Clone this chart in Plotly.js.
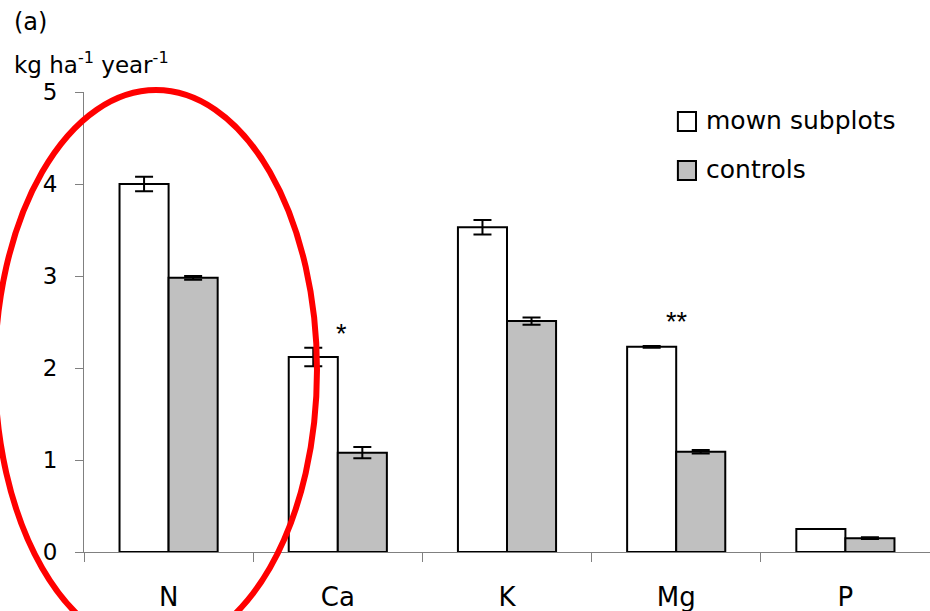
<!DOCTYPE html>
<html>
<head>
<meta charset="utf-8">
<script src="https://cdn.plot.ly/plotly-3.0.1.min.js"></script>
<style>html,body{margin:0;padding:0;background:#fff;}#chart{width:930px;height:611px;}</style>
</head>
<body>
<div id="chart"></div>
<script>
const categories = ['N', 'Ca', 'K', 'Mg', 'P'];
const mownValues = [4.00, 2.12, 3.53, 2.23, 0.25];
const mownErrors = [0.08, 0.10, 0.08, 0.01, 0.00];
const controlValues = [2.98, 1.08, 2.51, 1.09, 0.15];
const controlErrors = [0.02, 0.06, 0.04, 0.02, 0.01];
const sigLabels = ['', '*', '', '**', ''];
const sigY = [0, 2.37, 0, 2.50, 0];
const yTicks = [0, 1, 2, 3, 4, 5];
const seriesNames = ['mown subplots', 'controls'];

const FONT = 'DejaVu Sans, Arial, sans-serif';

const traces = [
  {
    type: 'bar', name: seriesNames[0], x: categories, y: mownValues,
    marker: {color: '#ffffff', line: {color: '#000000', width: 2}},
    error_y: {type: 'data', array: mownErrors, visible: true, color: '#000000', thickness: 2, width: 9},
    showlegend: false, hoverinfo: 'x+y'
  },
  {
    type: 'bar', name: seriesNames[1], x: categories, y: controlValues,
    marker: {color: '#c0c0c0', line: {color: '#000000', width: 2}},
    error_y: {type: 'data', array: controlErrors, visible: true, color: '#000000', thickness: 2, width: 9},
    showlegend: false, hoverinfo: 'x+y'
  }
];

const annotations = [];
categories.forEach((c, i) => {
  if (sigLabels[i]) {
    annotations.push({x: c, y: sigY[i], xref: 'x', yref: 'y', text: sigLabels[i], showarrow: false,
      xshift: i === 1 ? 4 : 1, font: {family: 'Liberation Sans, Arial, sans-serif', size: 27, color: '#000000'}});
  }
});
annotations.push({x: -0.0851, y: 1.152, xref: 'paper', yref: 'paper', xanchor: 'left', yanchor: 'middle',
  text: '(a)', showarrow: false, font: {family: FONT, size: 24, color: '#000'}});
annotations.push({x: -0.0851, y: 1.063, xref: 'paper', yref: 'paper', xanchor: 'left', yanchor: 'middle',
  text: 'kg ha<sup>-1</sup> year<sup>-1</sup>', showarrow: false, font: {family: FONT, size: 23, color: '#000'}});
annotations.push({x: 0.733, y: 0.937, xref: 'paper', yref: 'paper', xanchor: 'left', yanchor: 'middle',
  text: seriesNames[0], showarrow: false, font: {family: FONT, size: 25, color: '#000'}});
annotations.push({x: 0.733, y: 0.832, xref: 'paper', yref: 'paper', xanchor: 'left', yanchor: 'middle',
  text: seriesNames[1], showarrow: false, font: {family: FONT, size: 25, color: '#000'}});

const shapes = [
  {type: 'rect', xref: 'paper', yref: 'paper', x0: 0.702, x1: 0.7234, y0: 0.9152, y1: 0.9565,
   fillcolor: '#ffffff', line: {color: '#000', width: 2}},
  {type: 'rect', xref: 'paper', yref: 'paper', x0: 0.702, x1: 0.7234, y0: 0.8087, y1: 0.85,
   fillcolor: '#c0c0c0', line: {color: '#000', width: 2}},
  {type: 'circle', xref: 'paper', yref: 'paper', layer: 'above',
   x0: -0.1052, x1: 0.2754, y0: -0.213, y1: 1.0043,
   line: {color: '#ff0000', width: 6}, fillcolor: 'rgba(0,0,0,0)'}
];

const layout = {
  width: 930, height: 611,
  margin: {l: 84, r: 0, t: 92, b: 59},
  paper_bgcolor: '#ffffff', plot_bgcolor: '#ffffff',
  barmode: 'group', bargap: 0.42, bargroupgap: 0,
  showlegend: false,
  xaxis: {
    type: 'category', showgrid: false, zeroline: false,
    showline: true, linecolor: '#808080', linewidth: 1,
    ticks: 'outside', tickson: 'boundaries', ticklen: 9, tickcolor: '#808080', tickwidth: 1,
    tickfont: {family: FONT, size: 26, color: '#000'}, ticklabelstandoff: 22,
    range: [-0.5, 4.5], fixedrange: true
  },
  yaxis: {
    range: [0, 5], tickvals: yTicks, showgrid: false, zeroline: false,
    showline: true, linecolor: '#808080', linewidth: 1,
    ticks: 'outside', ticklen: 8, tickcolor: '#808080', tickwidth: 1,
    tickfont: {family: FONT, size: 23, color: '#000'}, ticklabelstandoff: 13,
    fixedrange: true
  },
  annotations: annotations,
  shapes: shapes
};

Plotly.newPlot('chart', traces, layout, {displayModeBar: false, staticPlot: true});
</script>
</body>
</html>
